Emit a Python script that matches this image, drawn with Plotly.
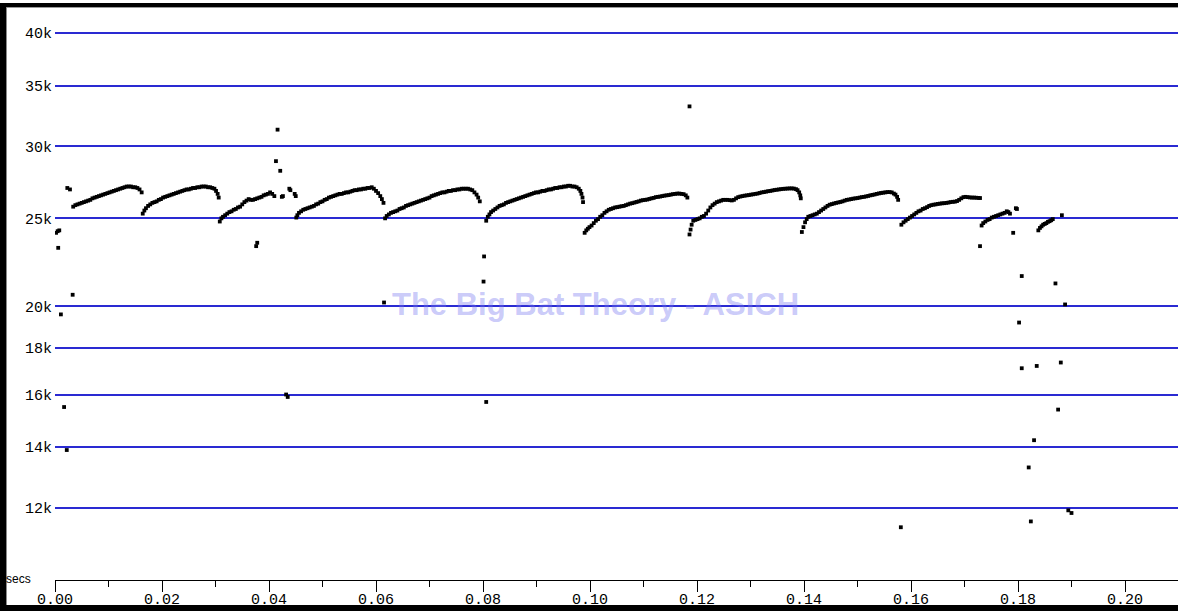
import plotly.graph_objects as go

# ---------------- data (time in seconds, frequency in kHz) ----------------
p1_t = [0.0034, 0.0038, 0.0042, 0.0046, 0.0050, 0.0054, 0.0058, 0.0062, 0.0066, 0.0070,
        0.0074, 0.0078, 0.0082, 0.0086, 0.0090, 0.0094, 0.0098, 0.0102, 0.0106, 0.0110,
        0.0114, 0.0118, 0.0122, 0.0126, 0.0130, 0.0134, 0.0138, 0.0142, 0.0146, 0.0150,
        0.0154, 0.0158, 0.0162]
p1_f = [25.75, 25.85, 25.9, 25.95, 26.0, 26.05, 26.1, 26.15, 26.2, 26.3,
        26.35, 26.4, 26.45, 26.5, 26.55, 26.6, 26.65, 26.7, 26.75, 26.8,
        26.85, 26.9, 26.95, 27.0, 27.05, 27.1, 27.1, 27.1, 27.05, 27.05,
        27.0, 26.9, 26.7]

p2_t = [0.0164, 0.0167, 0.0170, 0.0174, 0.0178, 0.0182, 0.0186, 0.0190, 0.0194, 0.0198,
        0.0202, 0.0206, 0.0210, 0.0214, 0.0218, 0.0222, 0.0226, 0.0230, 0.0234, 0.0238,
        0.0242, 0.0246, 0.0250, 0.0254, 0.0258, 0.0262, 0.0266, 0.0270, 0.0274, 0.0278,
        0.0282, 0.0286, 0.0290, 0.0294, 0.0298, 0.0301, 0.0304, 0.0306]
p2_f = [25.3, 25.5, 25.65, 25.8, 25.9, 26.0, 26.05, 26.1, 26.2, 26.25,
        26.35, 26.4, 26.45, 26.5, 26.55, 26.6, 26.65, 26.7, 26.75, 26.8,
        26.85, 26.9, 26.9, 26.95, 27.0, 27.0, 27.05, 27.05, 27.1, 27.1,
        27.1, 27.05, 27.05, 27.0, 26.95, 26.8, 26.6, 26.35]

p3_t = [0.0308, 0.0311, 0.0314, 0.0318, 0.0322, 0.0326, 0.0330, 0.0334, 0.0338, 0.0342,
        0.0346, 0.0350, 0.0354, 0.0358, 0.0362, 0.0366, 0.0370, 0.0374, 0.0378, 0.0382,
        0.0386, 0.0390, 0.0394, 0.0398, 0.0402, 0.0406, 0.0410, 0.0424, 0.0426, 0.0438,
        0.0440, 0.0448, 0.0450]
p3_f = [24.8, 25.0, 25.1, 25.2, 25.3, 25.4, 25.45, 25.55, 25.6, 25.7,
        25.75, 25.9, 26.05, 26.15, 26.25, 26.2, 26.2, 26.25, 26.3, 26.35,
        26.4, 26.5, 26.55, 26.6, 26.7, 26.6, 26.45, 26.4, 26.45, 26.95,
        26.85, 26.6, 26.45]

p4_t = [0.0451, 0.0453, 0.0456, 0.0460, 0.0464, 0.0468, 0.0472, 0.0476, 0.0480, 0.0484,
        0.0488, 0.0492, 0.0496, 0.0500, 0.0504, 0.0508, 0.0512, 0.0516, 0.0520, 0.0524,
        0.0528, 0.0532, 0.0536, 0.0540, 0.0544, 0.0548, 0.0552, 0.0556, 0.0560, 0.0564,
        0.0568, 0.0572, 0.0576, 0.0580, 0.0584, 0.0588, 0.0592, 0.0596, 0.0600, 0.0604,
        0.0608, 0.0611, 0.0614]
p4_f = [25.05, 25.2, 25.35, 25.45, 25.55, 25.6, 25.65, 25.7, 25.75, 25.8,
        25.9, 25.95, 26.05, 26.1, 26.2, 26.25, 26.35, 26.4, 26.45, 26.5,
        26.55, 26.6, 26.6, 26.65, 26.7, 26.7, 26.75, 26.8, 26.85, 26.85,
        26.9, 26.9, 26.95, 26.95, 27.0, 27.0, 27.05, 26.95, 26.8, 26.65,
        26.45, 26.25, 26.0]

p5_t = [0.0617, 0.0620, 0.0624, 0.0628, 0.0632, 0.0636, 0.0640, 0.0644, 0.0648, 0.0652,
        0.0656, 0.0660, 0.0664, 0.0668, 0.0672, 0.0676, 0.0680, 0.0684, 0.0688, 0.0692,
        0.0696, 0.0700, 0.0704, 0.0708, 0.0712, 0.0716, 0.0720, 0.0724, 0.0728, 0.0732,
        0.0736, 0.0740, 0.0744, 0.0748, 0.0752, 0.0756, 0.0760, 0.0764, 0.0768, 0.0772,
        0.0776, 0.0780, 0.0784, 0.0788, 0.0791, 0.0794]
p5_f = [25.0, 25.15, 25.25, 25.35, 25.4, 25.45, 25.5, 25.6, 25.65, 25.7,
        25.8, 25.85, 25.9, 25.95, 26.0, 26.05, 26.1, 26.15, 26.2, 26.25,
        26.3, 26.35, 26.45, 26.5, 26.55, 26.6, 26.65, 26.7, 26.7, 26.75,
        26.8, 26.8, 26.85, 26.85, 26.9, 26.9, 26.95, 26.95, 26.95, 26.95,
        26.9, 26.85, 26.7, 26.55, 26.35, 26.1]

p6_t = [0.0806, 0.0809, 0.0812, 0.0815, 0.0819, 0.0823, 0.0827, 0.0831, 0.0835, 0.0839,
        0.0843, 0.0847, 0.0851, 0.0855, 0.0859, 0.0863, 0.0867, 0.0871, 0.0875, 0.0879,
        0.0883, 0.0887, 0.0891, 0.0895, 0.0899, 0.0903, 0.0907, 0.0911, 0.0915, 0.0919,
        0.0923, 0.0927, 0.0931, 0.0935, 0.0939, 0.0943, 0.0947, 0.0951, 0.0955, 0.0959,
        0.0963, 0.0967, 0.0971, 0.0975, 0.0979, 0.0982, 0.0984, 0.0986, 0.0987]
p6_f = [24.85, 25.1, 25.25, 25.4, 25.5, 25.6, 25.7, 25.8, 25.85, 25.9,
        26.0, 26.05, 26.1, 26.15, 26.2, 26.25, 26.3, 26.35, 26.4, 26.45,
        26.5, 26.55, 26.6, 26.65, 26.7, 26.7, 26.75, 26.8, 26.8, 26.85,
        26.9, 26.9, 26.95, 27.0, 27.0, 27.05, 27.05, 27.1, 27.1, 27.15,
        27.15, 27.1, 27.1, 27.05, 26.95, 26.8, 26.6, 26.35, 26.05]

p7_t = [0.0990, 0.0993, 0.0996, 0.0999, 0.1003, 0.1007, 0.1011, 0.1015, 0.1019, 0.1023,
        0.1027, 0.1031, 0.1035, 0.1039, 0.1043, 0.1047, 0.1051, 0.1055, 0.1059, 0.1063,
        0.1067, 0.1071, 0.1075, 0.1079, 0.1083, 0.1087, 0.1091, 0.1095, 0.1099, 0.1103,
        0.1107, 0.1111, 0.1115, 0.1119, 0.1123, 0.1127, 0.1131, 0.1135, 0.1139, 0.1143,
        0.1147, 0.1151, 0.1155, 0.1159, 0.1163, 0.1167, 0.1171, 0.1175, 0.1179, 0.1182]
p7_f = [24.1, 24.25, 24.35, 24.45, 24.55, 24.7, 24.85, 24.95, 25.1, 25.2,
        25.35, 25.45, 25.55, 25.6, 25.65, 25.7, 25.72, 25.75, 25.78, 25.8,
        25.85, 25.9, 25.95, 25.98, 26.02, 26.06, 26.1, 26.15, 26.18, 26.2,
        26.22, 26.26, 26.3, 26.33, 26.38, 26.4, 26.42, 26.45, 26.48, 26.5,
        26.52, 26.55, 26.58, 26.6, 26.62, 26.62, 26.6, 26.58, 26.5, 26.35]

p8_t = [0.1186, 0.1188, 0.1190, 0.1193, 0.1197, 0.1201, 0.1205, 0.1209, 0.1213, 0.1217,
        0.1221, 0.1225, 0.1229, 0.1233, 0.1237, 0.1241, 0.1245, 0.1249, 0.1253, 0.1257,
        0.1261, 0.1265, 0.1269, 0.1273, 0.1277, 0.1281, 0.1285, 0.1289, 0.1293, 0.1297,
        0.1301, 0.1305, 0.1309, 0.1313, 0.1317, 0.1321, 0.1325, 0.1329, 0.1333, 0.1337,
        0.1341, 0.1345, 0.1349, 0.1353, 0.1357, 0.1361, 0.1365, 0.1369, 0.1373, 0.1377,
        0.1381, 0.1385, 0.1388, 0.1391, 0.1393, 0.1394]
p8_f = [24.0, 24.3, 24.6, 24.85, 24.9, 24.95, 25.0, 25.1, 25.15, 25.3,
        25.5, 25.7, 25.85, 25.95, 26.05, 26.1, 26.15, 26.2, 26.2, 26.2,
        26.18, 26.16, 26.2, 26.3, 26.38, 26.42, 26.45, 26.48, 26.5, 26.52,
        26.55, 26.57, 26.6, 26.62, 26.66, 26.7, 26.72, 26.75, 26.78, 26.8,
        26.83, 26.86, 26.88, 26.9, 26.92, 26.94, 26.95, 26.96, 26.97, 26.97,
        26.96, 26.92, 26.85, 26.7, 26.5, 26.3]

p9_t = [0.1396, 0.1399, 0.1402, 0.1405, 0.1408, 0.1412, 0.1416, 0.1420, 0.1424, 0.1428,
        0.1432, 0.1436, 0.1440, 0.1444, 0.1448, 0.1452, 0.1456, 0.1460, 0.1464, 0.1468,
        0.1472, 0.1476, 0.1480, 0.1484, 0.1488, 0.1492, 0.1496, 0.1500, 0.1504, 0.1508,
        0.1512, 0.1516, 0.1520, 0.1524, 0.1528, 0.1532, 0.1536, 0.1540, 0.1544, 0.1548,
        0.1552, 0.1556, 0.1560, 0.1564, 0.1568, 0.1571, 0.1574, 0.1576]
p9_f = [24.15, 24.45, 24.75, 24.95, 25.1, 25.15, 25.2, 25.25, 25.3, 25.4,
        25.5, 25.6, 25.7, 25.8, 25.88, 25.92, 25.96, 26.0, 26.03, 26.06,
        26.1, 26.15, 26.2, 26.22, 26.25, 26.28, 26.3, 26.32, 26.35, 26.38,
        26.4, 26.43, 26.46, 26.5, 26.53, 26.56, 26.6, 26.63, 26.66, 26.68,
        26.7, 26.72, 26.72, 26.7, 26.62, 26.55, 26.4, 26.2]

p10_t = [0.1582, 0.1586, 0.1590, 0.1594, 0.1598, 0.1602, 0.1606, 0.1610, 0.1614, 0.1618,
         0.1622, 0.1626, 0.1630, 0.1634, 0.1638, 0.1642, 0.1646, 0.1650, 0.1654, 0.1658,
         0.1662, 0.1666, 0.1670, 0.1674, 0.1678, 0.1682, 0.1686, 0.1690, 0.1694, 0.1698,
         0.1702, 0.1706, 0.1710, 0.1714, 0.1718, 0.1722, 0.1726, 0.1729]
p10_f = [24.6, 24.75, 24.85, 24.95, 25.05, 25.15, 25.25, 25.35, 25.45, 25.5,
         25.6, 25.65, 25.72, 25.8, 25.85, 25.88, 25.9, 25.93, 25.95, 25.97,
         25.98, 26.0, 26.02, 26.05, 26.07, 26.08, 26.12, 26.2, 26.3, 26.38,
         26.4, 26.38, 26.36, 26.35, 26.35, 26.34, 26.33, 26.32]

p11_t = [0.1732, 0.1735, 0.1739, 0.1743, 0.1747, 0.1751, 0.1755, 0.1759, 0.1763, 0.1767,
         0.1771, 0.1775, 0.1779, 0.1782, 0.1785, 0.1796, 0.1798]
p11_f = [24.55, 24.7, 24.8, 24.9, 24.95, 25.05, 25.1, 25.15, 25.2, 25.25,
         25.3, 25.35, 25.45, 25.4, 25.3, 25.65, 25.6]

p12_t = [0.1838, 0.1841, 0.1844, 0.1847, 0.1850, 0.1853, 0.1856, 0.1859, 0.1862, 0.1865, 0.1882]
p12_f = [24.25, 24.4, 24.5, 24.6, 24.65, 24.7, 24.78, 24.82, 24.88, 24.95, 25.2]

# isolated detections
stray_t = [0.0002, 0.0005, 0.0008, 0.0006, 0.0011, 0.0033, 0.0017, 0.0022, 0.0023, 0.0028,
           0.0376, 0.0378, 0.0413, 0.0416, 0.0421, 0.0432, 0.0435,
           0.0615, 0.0801, 0.0802, 0.0806, 0.1186,
           0.1581, 0.1729, 0.1791, 0.1802, 0.1807, 0.1807, 0.1820, 0.1824, 0.1830,
           0.1835, 0.1870, 0.1875, 0.1880, 0.1888, 0.1894, 0.1900]
stray_f = [24.1, 24.2, 24.25, 23.2, 19.6, 20.6, 15.5, 13.9, 27.0, 26.9,
           23.3, 23.5, 28.9, 31.3, 28.2, 16.0, 15.9,
           20.2, 21.3, 22.7, 15.7, 33.2,
           11.43, 23.3, 24.1, 19.2, 21.6, 17.1, 13.3, 11.6, 14.25,
           17.2, 21.2, 15.4, 17.35, 20.1, 11.93, 11.85]

y_tick_vals = [12, 14, 16, 18, 20, 25, 30, 35, 40]
y_tick_text = ["12k", "14k", "16k", "18k", "20k", "25k", "30k", "35k", "40k"]
x_tick_vals = [0.00, 0.02, 0.04, 0.06, 0.08, 0.10, 0.12, 0.14, 0.16, 0.18, 0.20]
x_tick_text = ["0.00", "0.02", "0.04", "0.06", "0.08", "0.10", "0.12", "0.14", "0.16", "0.18", "0.20"]

pulses_t = [p1_t, p2_t, p3_t, p4_t, p5_t, p6_t, p7_t, p8_t, p9_t, p10_t, p11_t, p12_t, stray_t]
pulses_f = [p1_f, p2_f, p3_f, p4_f, p5_f, p6_f, p7_f, p8_f, p9_f, p10_f, p11_f, p12_f, stray_f]

all_t = [v for seg in pulses_t for v in seg]
all_f = [v for seg in pulses_f for v in seg]

# ---------------- layout geometry (pixels) ----------------
W, H = 1178, 611
L, R, T, B = 55, 0, 8, 31
PW, PH = W - L - R, H - T - B


def px_x(p):
    return (p - L) / PW


def px_y(p):
    return (H - B - p) / PH


fig = go.Figure()
fig.add_trace(go.Scatter(
    x=all_t, y=all_f, mode="markers",
    marker=dict(symbol="square", size=3.8, color="black", line=dict(width=0)),
    hoverinfo="x+y", showlegend=False,
))

mono = "Liberation Mono, Courier New, monospace"

fig.update_layout(
    width=W, height=H,
    margin=dict(l=L, r=R, t=T, b=B, pad=0),
    paper_bgcolor="white", plot_bgcolor="white",
    showlegend=False,
    xaxis=dict(
        range=[0, PW / 5350.0],
        tickvals=x_tick_vals, ticktext=x_tick_text,
        showgrid=False, zeroline=False,
        showline=True, linecolor="black", linewidth=1,
        ticks="outside", ticklen=11, tickwidth=1, tickcolor="black",
        minor=dict(dtick=0.01, tick0=0, ticks="outside", ticklen=6, tickwidth=1, tickcolor="black", showgrid=False),
        tickfont=dict(family=mono, size=15, color="black"),
        ticklabelstandoff=-6,
    ),
    yaxis=dict(
        type="log",
        range=[1.0, 1.6294],
        tickvals=y_tick_vals, ticktext=y_tick_text,
        showgrid=True, gridcolor="#2a2ad2", gridwidth=1.6,
        zeroline=False, showline=False, ticks="",
        tickfont=dict(family=mono, size=15, color="black"),
        ticklabelstandoff=2,
    ),
)

# watermark
fig.add_annotation(
    text="The Big Bat Theory - ASICH",
    xref="paper", yref="paper", x=px_x(595), y=px_y(305),
    xanchor="center", yanchor="middle", showarrow=False,
    font=dict(family="Liberation Sans, Arial, sans-serif", size=31, color="rgba(120,120,240,0.40)", weight="bold"),
)

# "secs" unit label
fig.add_annotation(
    text="secs", xref="paper", yref="paper", x=px_x(4), y=px_y(579),
    xanchor="left", yanchor="middle", showarrow=False,
    font=dict(family="Liberation Sans, Arial, sans-serif", size=12, color="black"),
)

# window frame
frame = [
    (0, 3, 6, H, "black"),        # left bar
    (6, 7, 7, H, "#8a8a8a"),       # left inner shade
    (0, 3, W, 7, "black"),         # top bar
    (7, 7, W, 8, "#9a9a9a"),       # top inner shade
    (0, 605, W, H, "black"),       # bottom bar
]
for x0, y0, x1, y1, col in frame:
    fig.add_shape(type="rect", xref="paper", yref="paper",
                  x0=px_x(x0), x1=px_x(x1), y0=px_y(y1), y1=px_y(y0),
                  fillcolor=col, line=dict(width=0), layer="above")

fig.write_html("out.html", config={"displayModeBar": False, "responsive": False},
               post_script="document.body.style.margin='0px';document.body.style.padding='0px';document.body.style.overflow='hidden';")
